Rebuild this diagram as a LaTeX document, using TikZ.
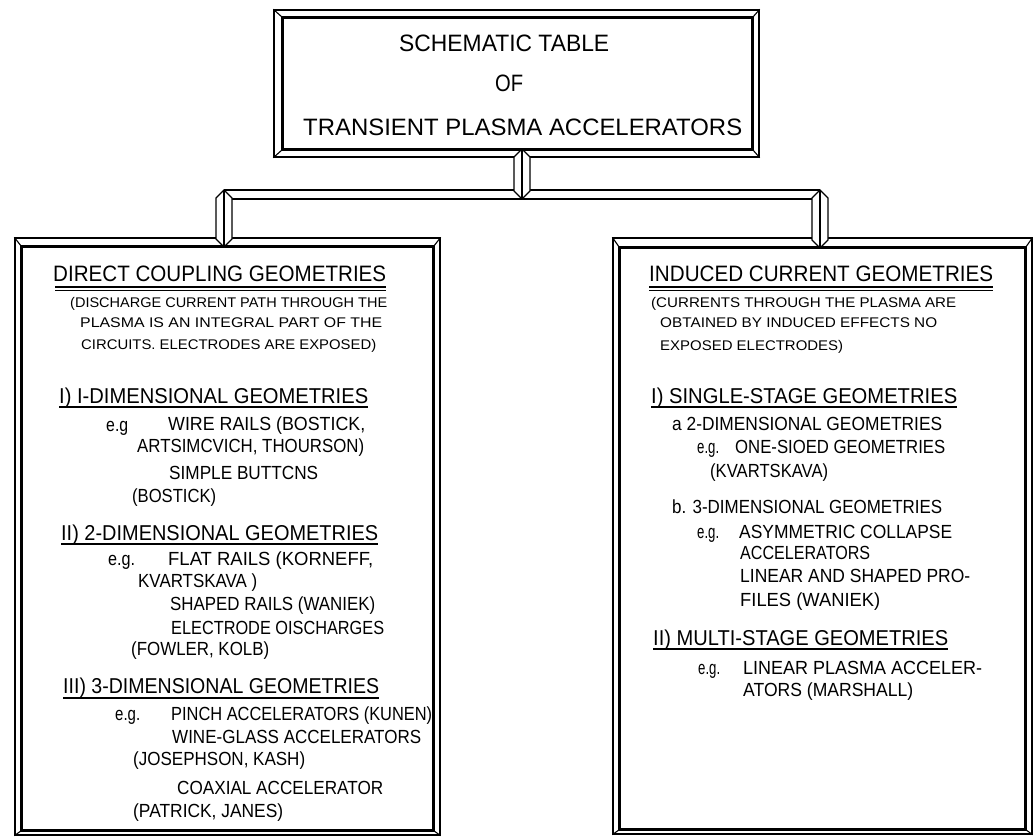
\documentclass[tikz,border=0pt]{standalone}
\usepackage{fontspec}
\setmainfont{Liberation Sans}
\usepackage{graphicx}
\newcommand\fitw[2]{\resizebox{#1pt}{\height}{#2}}
\newcommand\fsz[1]{\fontsize{#1}{#1}\selectfont}
\tikzset{
  outerframe/.style={draw, line width=1.3pt, inner sep=0pt, fill=white},
  innerframe/.style={draw, line width=2.4pt},
  bevel/.style={line width=1.1pt},
  pipe/.style={draw, line width=1.2pt, fill=white, line join=miter},
  uline/.style={line width=1.3pt},
  txt/.style={anchor=base west, inner sep=0pt},
  ttl/.style={txt, font=\fsz{23.7}},
  hdr/.style={txt, font=\fsz{22.3}},
  note/.style={txt, font=\fsz{14}},
  sec/.style={txt, font=\fsz{21.5}},
  item/.style={txt, font=\fsz{19}},
}
\newcommand\bevelframe[5]{%
  \draw[innerframe] ([shift={(#2,#3)}]#1.north west) rectangle ([shift={(-#4,-#5)}]#1.south east);
  \draw[bevel] (#1.north west) -- ++(#2,#3) (#1.north east) -- ++(-#4,#3)
               (#1.south west) -- ++(#2,-#5) (#1.south east) -- ++(-#4,-#5);
}
\newcommand\vpipe[3]{%
  \draw[pipe] ([shift={(-#3,#3)}]#1) -- (#1) -- ([shift={(#3,#3)}]#1) -- ([shift={(#3,-#3)}]#2) -- (#2) -- ([shift={(-#3,-#3)}]#2) -- cycle;
  \draw[pipe] (#1) -- (#2);
}
\begin{document}
\begin{tikzpicture}[x=1pt,y=-1pt]
\useasboundingbox (0,0) rectangle (1033,836);
% boxes
\node[outerframe, minimum width=485pt, minimum height=147pt] (top) at (516.5,83.5) {};
\node[outerframe, minimum width=425pt, minimum height=597pt] (left) at (227.5,536.5) {};
\node[outerframe, minimum width=419pt, minimum height=596pt] (right) at (822.5,536) {};
\bevelframe{top}{9}{8}{7}{8}
\bevelframe{left}{7}{9}{7}{5}
\bevelframe{right}{7}{10}{7}{5}
% pipes
\coordinate (hL1) at (224,190); \coordinate (hR1) at (820,190);
\coordinate (hL2) at (224,199); \coordinate (hR2) at (820,199);
\draw[pipe] (hL1) -- (hR1);
\draw[pipe] (hL2) -- (hR2);
\coordinate (cTop) at (522,149); \coordinate (cBot) at (522,199);
\coordinate (lTop) at (224,190); \coordinate (lBot) at (224,247);
\coordinate (rTop) at (820,190); \coordinate (rBot) at (820,248);
\vpipe{cTop}{cBot}{8}
\vpipe{lTop}{lBot}{8}
\vpipe{rTop}{rBot}{8}
% title
\node[ttl] (t1) at (399,51) {\fitw{210}{SCHEMATIC TABLE}};
\node[ttl] (t2) at (495,91) {\fitw{28}{OF}};
\node[ttl] (t3) at (303,135) {\fitw{439}{TRANSIENT PLASMA ACCELERATORS}};
% left box
\node[hdr] (l1) at (53,281) {\fitw{333}{DIRECT COUPLING GEOMETRIES}};
\draw[uline] ([shift={(2,6)}]l1.base west) -- ([shift={(0,6)}]l1.base east);
\draw[line width=0.9pt] ([shift={(2,9)}]l1.base west) -- ([shift={(0,9)}]l1.base east);
\node[note] (l2) at (70,307) {\fitw{317}{(DISCHARGE CURRENT PATH THROUGH THE}};
\node[note] (l3) at (80,327) {\fitw{302}{PLASMA IS AN INTEGRAL PART OF THE}};
\node[note] (l4) at (81,349) {\fitw{295}{CIRCUITS. ELECTRODES ARE EXPOSED)}};
\node[sec] (l5) at (59,403) {\fitw{309}{I) I-DIMENSIONAL GEOMETRIES}};
\draw[uline] ([shift={(0,4)}]l5.base west) -- ([shift={(0,4)}]l5.base east);
\node[item] (l6) at (106,431) {\fitw{22}{e.g}};
\node[item] (l7) at (168,430) {\fitw{197}{WIRE RAILS (BOSTICK,}};
\node[item] (l8) at (137,452) {\fitw{227}{ARTSIMCVICH, THOURSON)}};
\node[item] (l9) at (169,479) {\fitw{149}{SIMPLE BUTTCNS}};
\node[item] (l10) at (132,502) {\fitw{84}{(BOSTICK)}};
\node[sec] (l11) at (61,540) {\fitw{317}{II) 2-DIMENSIONAL GEOMETRIES}};
\draw[uline] ([shift={(0,4)}]l11.base west) -- ([shift={(0,4)}]l11.base east);
\node[item] (l12) at (108,565) {\fitw{27}{e.g.}};
\node[item] (l13) at (168,565) {\fitw{205}{FLAT RAILS (KORNEFF,}};
\node[item] (l14) at (138,587) {\fitw{119}{KVARTSKAVA )}};
\node[item] (l15) at (170,610) {\fitw{205}{SHAPED RAILS (WANIEK)}};
\node[item] (l16) at (171,634) {\fitw{213}{ELECTRODE OISCHARGES}};
\node[item] (l17) at (131,655) {\fitw{138}{(FOWLER, KOLB)}};
\node[sec] (l18) at (63,693) {\fitw{316}{III) 3-DIMENSIONAL GEOMETRIES}};
\draw[uline] ([shift={(0,5)}]l18.base west) -- ([shift={(0,5)}]l18.base east);
\node[item] (l19) at (115,720) {\fitw{25}{e.g.}};
\node[item] (l20) at (171,720) {\fitw{261}{PINCH ACCELERATORS (KUNEN)}};
\node[item] (l21) at (172,743) {\fitw{249}{WINE-GLASS ACCELERATORS}};
\node[item] (l22) at (133,765) {\fitw{172}{(JOSEPHSON, KASH)}};
\node[item] (l23) at (177,794) {\fitw{206}{COAXIAL ACCELERATOR}};
\node[item] (l24) at (133,817) {\fitw{150}{(PATRICK, JANES)}};
% right box
\node[hdr] (r1) at (649,281) {\fitw{344}{INDUCED CURRENT GEOMETRIES}};
\draw[uline] ([shift={(0,6)}]r1.base west) -- ([shift={(0,6)}]r1.base east);
\draw[line width=0.9pt] ([shift={(0,9)}]r1.base west) -- ([shift={(0,9)}]r1.base east);
\node[note] (r2) at (651,307) {\fitw{305}{(CURRENTS THROUGH THE PLASMA ARE}};
\node[note] (r3) at (660,327) {\fitw{277}{OBTAINED BY INDUCED EFFECTS NO}};
\node[note] (r4) at (660,350) {\fitw{183}{EXPOSED ELECTRODES)}};
\node[sec] (r5) at (651,403) {\fitw{306}{I) SINGLE-STAGE GEOMETRIES}};
\draw[uline] ([shift={(0,4)}]r5.base west) -- ([shift={(0,4)}]r5.base east);
\node[item] (r6) at (672,430) {\fitw{270}{a 2-DIMENSIONAL GEOMETRIES}};
\node[item] (r7) at (697,453) {\fitw{22}{e.g.}};
\node[item] (r8) at (735,453) {\fitw{210}{ONE-SIOED GEOMETRIES}};
\node[item] (r9) at (710,477) {\fitw{118}{(KVARTSKAVA)}};
\node[item] (r10) at (672,513) {\fitw{270}{b. 3-DIMENSIONAL GEOMETRIES}};
\node[item] (r11) at (697,538) {\fitw{22}{e.g.}};
\node[item] (r12) at (739,538) {\fitw{213}{ASYMMETRIC COLLAPSE}};
\node[item] (r13) at (740,559) {\fitw{130}{ACCELERATORS}};
\node[item] (r14) at (740,582) {\fitw{230}{LINEAR AND SHAPED PRO-}};
\node[item] (r15) at (740,606) {\fitw{140}{FILES (WANIEK)}};
\node[sec] (r16) at (653,645) {\fitw{295}{II) MULTI-STAGE GEOMETRIES}};
\draw[uline] ([shift={(0,4)}]r16.base west) -- ([shift={(0,4)}]r16.base east);
\node[item] (r17) at (698,674) {\fitw{22}{e.g.}};
\node[item] (r18) at (743,674) {\fitw{239}{LINEAR PLASMA ACCELER-}};
\node[item] (r19) at (743,696) {\fitw{170}{ATORS (MARSHALL)}};
\end{tikzpicture}
\end{document}
